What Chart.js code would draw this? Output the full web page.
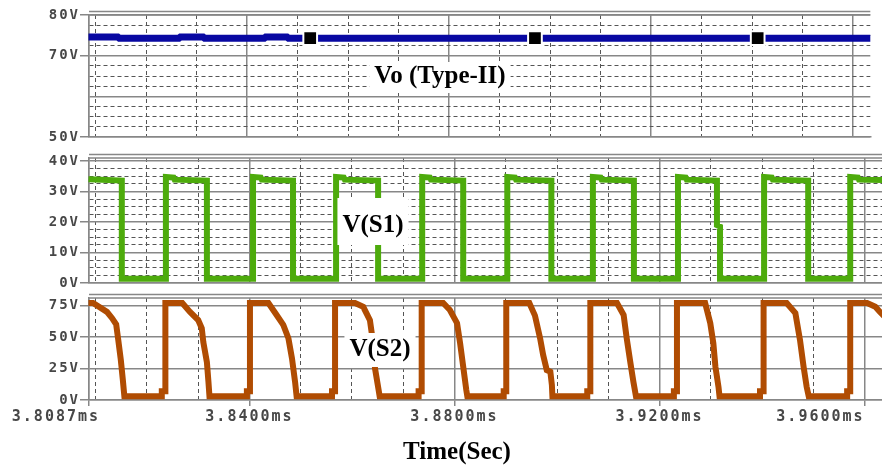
<!DOCTYPE html>
<html>
<head>
<meta charset="utf-8">
<script src="https://cdn.jsdelivr.net/npm/chart.js@4.4.1/dist/chart.umd.min.js"></script>
<style>
  body { margin: 0; background: #fff; }
  #wrap { position: relative; width: 882px; height: 471px; }
  #wrap canvas { position: absolute; left: 0; top: 0; }
</style>
</head>
<body>
<div id="wrap">
  <canvas id="vo" width="882" height="471"></canvas>
  <canvas id="s1" width="882" height="471"></canvas>
  <canvas id="s2" width="882" height="471"></canvas>
</div>
<script>
// time axis (ms)
const xMin = 3.8087, xMax = 3.9634;
const xTickValues = [3.8087, 3.84, 3.88, 3.92, 3.96];
const xTickLabels = ["3.8087ms", "3.8400ms", "3.8800ms", "3.9200ms", "3.9600ms"];
const xMinorTicks = [3.81, 3.82, 3.83, 3.85, 3.86, 3.87, 3.89, 3.90, 3.91, 3.93, 3.94, 3.95];

// Vo panel
const voTicks = [50, 52.5, 55, 57.5, 60, 62.5, 65, 67.5, 70, 72.5, 75, 77.5, 80];
const voMajor = [50, 60, 70, 80];
const voLabelValues = [80, 70, 50];
const voLabelTexts = ["80V", "70V", "50V"];
const voTime = [3.8086, 3.8144, 3.8147, 3.8265, 3.8268, 3.8313, 3.8316, 3.8434, 3.8437, 3.8479, 3.8482, 3.9640];
const voVolt = [74.6, 74.6, 74.3, 74.3, 74.6, 74.6, 74.3, 74.3, 74.6, 74.6, 74.3, 74.3];
const voMarkTime = [3.8525, 3.8970, 3.9411];
const voMarkVolt = [74.3, 74.3, 74.3];

// V(S1) panel
const s1Ticks = [0, 2.5, 5, 7.5, 10, 12.5, 15, 17.5, 20, 22.5, 25, 27.5, 30, 32.5, 35, 37.5, 40];
const s1Major = [0, 10, 20, 30, 40];
const s1LabelValues = [40, 30, 20, 10, 0];
const s1LabelTexts = ["40V", "30V", "20V", "10V", "0V"];
const s1Time = [
  3.8086, 3.8151, 3.8151, 3.8237,
  3.8237, 3.8252, 3.8254, 3.8317, 3.8317, 3.8407,
  3.8407, 3.8422, 3.8424, 3.8485, 3.8485, 3.8569,
  3.8569, 3.8584, 3.8586, 3.8651, 3.8651, 3.8737,
  3.8737, 3.8752, 3.8754, 3.8817, 3.8817, 3.8903,
  3.8903, 3.8918, 3.8920, 3.8989, 3.8989, 3.9070,
  3.9070, 3.9085, 3.9087, 3.9150, 3.9150, 3.9236,
  3.9236, 3.9251, 3.9253, 3.9312, 3.9312, 3.9318, 3.9318, 3.9404,
  3.9404, 3.9419, 3.9421, 3.9490, 3.9490, 3.9572,
  3.9572, 3.9587, 3.9589, 3.9640
];
const s1Volt = [
  34.0, 33.6, 1.4, 1.4,
  34.8, 34.6, 33.9, 33.6, 1.4, 1.4,
  34.8, 34.6, 33.9, 33.6, 1.4, 1.4,
  34.8, 34.6, 33.9, 33.6, 1.4, 1.4,
  34.8, 34.6, 33.9, 33.6, 1.4, 1.4,
  34.8, 34.6, 33.9, 33.6, 1.4, 1.4,
  34.8, 34.6, 33.9, 33.6, 1.4, 1.4,
  34.8, 34.6, 33.9, 33.6, 19.0, 18.5, 1.4, 1.4,
  34.8, 34.6, 33.9, 33.6, 1.4, 1.4,
  34.8, 34.6, 33.9, 33.8
];

// V(S2) panel
const s2Ticks = [0, 25, 50, 75];
const s2LabelValues = [75, 50, 25, 0];
const s2LabelTexts = ["75V", "50V", "25V", "0V"];
const s2Time = [
  3.8086, 3.8095, 3.8122, 3.8132, 3.8140, 3.8144, 3.8149, 3.8153, 3.8156, 3.8229, 3.8229, 3.8236,
  3.8236, 3.8269, 3.8284, 3.8300, 3.8307, 3.8310, 3.8317, 3.8320, 3.8322, 3.8395, 3.8395, 3.8401,
  3.8401, 3.8437, 3.8453, 3.8466, 3.8476, 3.8483, 3.8489, 3.8492, 3.8561, 3.8561, 3.8567,
  3.8567, 3.8606, 3.8622, 3.8635, 3.8639, 3.8643, 3.8645, 3.8652, 3.8654, 3.8730, 3.8730, 3.8736,
  3.8736, 3.8778, 3.8791, 3.8805, 3.8811, 3.8817, 3.8823, 3.8825, 3.8896, 3.8896, 3.8901,
  3.8901, 3.8946, 3.8957, 3.8967, 3.8973, 3.8980, 3.8987, 3.8990, 3.8991, 3.9059, 3.9059, 3.9065,
  3.9065, 3.9117, 3.9130, 3.9136, 3.9143, 3.9149, 3.9154, 3.9228, 3.9228, 3.9234,
  3.9234, 3.9289, 3.9299, 3.9305, 3.9309, 3.9315, 3.9317, 3.9396, 3.9396, 3.9403,
  3.9403, 3.9448, 3.9465, 3.9474, 3.9481, 3.9487, 3.9491, 3.9566, 3.9566, 3.9572,
  3.9572, 3.9605, 3.9621, 3.9630, 3.9642
];
const s2Volt = [
  77, 77, 70, 65, 60, 48, 32, 16, 3, 3, 7, 7,
  77, 77, 70, 63.5, 57, 46, 30, 14.5, 3, 3, 7, 7,
  77, 77, 67.5, 59.6, 49, 33, 14.5, 3, 3, 7, 7,
  77, 77, 74, 63.5, 52, 36, 25, 8, 3, 3, 7, 7,
  77, 77, 71.5, 61, 45, 26.5, 8, 3, 3, 7, 7,
  77, 77, 67, 49, 35.7, 23.8, 22.5, 12, 3, 3, 7, 7,
  77, 77, 67.5, 49, 30, 14.5, 3, 3, 7, 7,
  77, 77, 61, 45, 26.5, 10.5, 3, 3, 7, 7,
  77, 77, 69, 47.7, 26.5, 10.5, 3, 3, 7, 7,
  77, 77, 74, 70, 65
];

const GRID = "#878787";
const DASH = "#555555";
const NONE = "rgba(0,0,0,0)";
const LABEL = "#474747";

const near = (list, v) => list.some(t => Math.abs(t - v) < 1e-6);
const xAllTicks = xTickValues.concat(xMinorTicks).sort((a, b) => a - b);

function xLabel(v) {
  const i = xTickValues.findIndex(t => Math.abs(t - v) < 1e-6);
  if (i < 0) return "";
  // first and last labels sit beside their tick, not centred on it
  if (i === 0) return xTickLabels[i] + "      ";
  if (i === xTickValues.length - 1) return xTickLabels[i] + "        ";
  return xTickLabels[i];
}

function xScale(showX) {
  return {
    type: "linear", min: xMin, max: xMax,
    afterBuildTicks: s => { s.ticks = xAllTicks.map(v => ({ value: v })); },
    afterFit: s => { s.height = showX ? 71 : 0; s.paddingLeft = 0; s.paddingRight = 0; },
    grid: {
      color: c => (c.tick && !near(xTickValues, c.tick.value)) ? DASH : GRID,
      lineWidth: c => (c.tick && !near(xTickValues, c.tick.value)) ? 1 : 1.5,
      drawTicks: showX, tickLength: 6, tickWidth: 1.5,
      tickColor: c => (c.tick && near(xTickValues, c.tick.value)) ? GRID : NONE
    },
    border: {
      display: true, color: GRID, width: 1.5,
      dash: c => (c.tick && !near(xTickValues, c.tick.value)) ? [4, 3] : []
    },
    ticks: {
      display: showX, autoSkip: false, maxRotation: 0, minRotation: 0, padding: 2,
      color: LABEL, font: { family: "DejaVu Sans Mono", size: 15, weight: "bold" },
      callback: v => xLabel(v)
    }
  };
}

function yScale(min, max, ticks, major, labelValues, labelTexts) {
  const lab = v => {
    const i = labelValues.findIndex(t => Math.abs(t - v) < 1e-6);
    return i < 0 ? "" : labelTexts[i];
  };
  return {
    type: "linear", min: min, max: max,
    afterBuildTicks: s => { s.ticks = ticks.map(v => ({ value: v })); },
    afterFit: s => { s.width = 89; },
    grid: {
      color: c => (c.tick && !near(major, c.tick.value)) ? DASH : GRID,
      lineWidth: c => (c.tick && !near(major, c.tick.value)) ? 1 : 1.5,
      tickLength: 9, tickWidth: 1.5,
      tickColor: c => (c.tick && near(labelValues, c.tick.value)) ? GRID : NONE
    },
    border: {
      display: true, color: GRID, width: 1.5,
      dash: c => (c.tick && !near(major, c.tick.value)) ? [4, 3] : []
    },
    ticks: {
      autoSkip: false, padding: 0, color: LABEL,
      font: { family: "DejaVu Sans Mono", size: 14, weight: "bold" },
      callback: v => lab(v)
    }
  };
}

const spacingPlugin = {
  id: "spacing",
  beforeDraw(chart) { chart.ctx.letterSpacing = "2px"; }
};

const framePlugin = {
  id: "frame",
  beforeDatasetsDraw(chart) {
    const { ctx, chartArea: a } = chart;
    ctx.save();
    ctx.strokeStyle = GRID;
    ctx.lineWidth = 1.5;
    ctx.beginPath();
    ctx.moveTo(a.left, a.top); ctx.lineTo(a.right, a.top);
    ctx.moveTo(a.left, a.top - 3.5); ctx.lineTo(a.right, a.top - 3.5);
    ctx.stroke();
    ctx.restore();
  }
};

function notesPlugin(items) {
  return {
    id: "notes",
    afterDraw(chart) {
      const ctx = chart.ctx;
      ctx.save();
      ctx.letterSpacing = "0px";
      ctx.font = 'bold 25px "Liberation Serif"';
      ctx.textAlign = "center";
      ctx.textBaseline = "middle";
      items.forEach(n => {
        if (n.boxTop !== undefined) {
          const w = ctx.measureText(n.text).width + 10;
          ctx.fillStyle = "#fff";
          ctx.fillRect(n.x - w / 2, n.boxTop, w, n.boxBottom - n.boxTop);
        }
        ctx.fillStyle = "#000";
        ctx.fillText(n.text, n.x, n.y);
      });
      ctx.restore();
    }
  };
}

const toPoints = (ts, vs) => ts.map((t, i) => ({ x: t, y: vs[i] }));

function panel(id, datasets, top, bottom, showX, y, notes) {
  return new Chart(document.getElementById(id), {
    type: "line",
    data: { datasets: datasets },
    options: {
      responsive: false,
      animation: false,
      events: [],
      layout: { padding: { top: top, bottom: bottom, left: 0, right: 0 } },
      plugins: { legend: { display: false }, tooltip: { enabled: false } },
      elements: {
        point: { radius: 0 },
        line: { tension: 0, borderJoinStyle: "miter", borderCapStyle: "butt" }
      },
      scales: { x: xScale(showX), y: y }
    },
    plugins: [spacingPlugin, framePlugin, notesPlugin(notes)]
  });
}

const lineClip = { left: 3, top: 3, right: 0, bottom: 3 };

panel("vo", [
  {
    data: toPoints(voMarkTime, voMarkVolt), showLine: false,
    pointStyle: "rect", pointRadius: 9.7,
    pointBackgroundColor: "#000", pointBorderColor: "#fff", pointBorderWidth: 2
  },
  { data: toPoints(voTime, voVolt), borderColor: "#0808a2", borderWidth: 7, clip: lineClip }
], 15, 334, false,
  yScale(50, 80, voTicks, voMajor, voLabelValues, voLabelTexts),
  [{ text: "Vo (Type-II)", x: 440, y: 77, boxTop: 62, boxBottom: 93 }]);

panel("s1", [
  { data: toPoints(s1Time, s1Volt), borderColor: "#4dab0c", borderWidth: 6, clip: lineClip }
], 158, 188, false,
  yScale(0, 41, s1Ticks, s1Major, s1LabelValues, s1LabelTexts),
  [{ text: "V(S1)", x: 373, y: 226, boxTop: 198, boxBottom: 245 }]);

panel("s2", [
  { data: toPoints(s2Time, s2Volt), borderColor: "#b04c02", borderWidth: 6, clip: lineClip }
], 298, 0, true,
  yScale(0, 81, s2Ticks, s2Ticks, s2LabelValues, s2LabelTexts),
  [
    { text: "V(S2)", x: 380, y: 350, boxTop: 333, boxBottom: 367 },
    { text: "Time(Sec)", x: 457, y: 453 }
  ]);
</script>
</body>
</html>
